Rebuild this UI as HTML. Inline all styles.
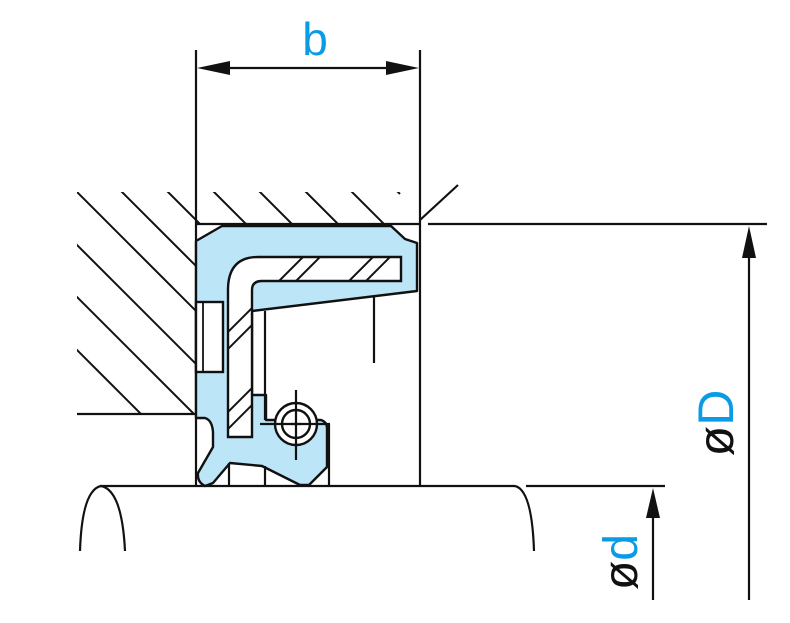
<!DOCTYPE html>
<html><head><meta charset="utf-8"><style>
html,body{margin:0;padding:0;background:#fff;width:790px;height:623px;overflow:hidden}
svg{display:block}
text{font-family:"Liberation Sans",sans-serif}
</style></head><body>
<svg width="790" height="623" viewBox="0 0 790 623" xmlns="http://www.w3.org/2000/svg">
<defs>
<clipPath id="hz"><path d="M77 192 H420 V224 H196 V414 H77 Z"/></clipPath>
<clipPath id="mt"><path d="M401 257 H258 Q228 257 228 290 V437 H252 V290 Q252 281 262 281 H401 Z"/></clipPath>
</defs>
<g clip-path="url(#hz)" stroke="#111" stroke-width="2">
<line x1="-200" y1="-85" x2="400" y2="515"/>
<line x1="-200" y1="-32" x2="400" y2="568"/>
<line x1="-200" y1="20" x2="400" y2="620"/>
<line x1="-200" y1="73" x2="400" y2="673"/>
<line x1="-200" y1="-130" x2="400" y2="470"/>
<line x1="-200" y1="-176" x2="400" y2="424"/>
<line x1="-200" y1="-222" x2="400" y2="378"/>
<line x1="-200" y1="-268" x2="400" y2="332"/>
<line x1="-200" y1="-314" x2="400" y2="286"/>
<line x1="-200" y1="-360" x2="400" y2="240"/>
<line x1="-200" y1="-406" x2="400" y2="194"/>
</g>
<g stroke="#111" stroke-width="2.2" fill="none">
<line x1="77" y1="414" x2="196" y2="414"/>
<line x1="196" y1="224" x2="420" y2="224"/>
<line x1="196" y1="50" x2="196" y2="486"/>
<line x1="420" y1="50" x2="420" y2="486"/>
<line x1="420" y1="220" x2="458" y2="185"/>
<line x1="428" y1="224" x2="767" y2="224"/>
<line x1="526" y1="486" x2="665" y2="486"/>
<line x1="100" y1="486" x2="515" y2="486"/>
<path d="M80 551 Q82 490 101 486 Q122 490 125 551"/>
<path d="M515 486 Q532 490 534 551"/>
<line x1="215" y1="68" x2="400" y2="68"/>
<line x1="749" y1="250" x2="749" y2="600"/>
<line x1="653" y1="510" x2="653" y2="600"/>
</g>
<path d="M197 68 L230 61 L230 75 Z" fill="#111"/>
<path d="M419 68 L386 61 L386 75 Z" fill="#111"/>
<path d="M749 226 L742 258 L756 258 Z" fill="#111"/>
<path d="M653 488 L646 518 L660 518 Z" fill="#111"/>
<path d="M196 241 L222 226 L391 226 L405 239 L417 243 L417 291 L252 311 L252 395 L266 395 L266 420 L321 420 Q327 422 327 428 L327 467 L309 485 L300 485 L262 466 L230 463 L213 483 L205 486 Q197 482 198 473 L213 447 L213 432 Q212 420 205 418 L196 418 Z" fill="#bde5f8" stroke="#111" stroke-width="2.4" stroke-linejoin="round"/>
<path d="M401 257 H258 Q228 257 228 290 V437 H252 V290 Q252 281 262 281 H401 Z" fill="#fff" stroke="#111" stroke-width="2.4"/>
<g clip-path="url(#mt)" stroke="#111" stroke-width="2">
<line x1="200" y1="360" x2="330" y2="230"/>
<line x1="200" y1="377" x2="330" y2="247"/>
<line x1="200" y1="440" x2="330" y2="310"/>
<line x1="200" y1="457" x2="330" y2="327"/>
<line x1="330" y1="300" x2="400" y2="230"/>
<line x1="347" y1="300" x2="417" y2="230"/>
</g>
<rect x="196" y="302" width="27" height="70" fill="#fff" stroke="#111" stroke-width="2.4"/>
<line x1="203" y1="302" x2="203" y2="372" stroke="#111" stroke-width="1.8"/>
<g stroke="#111" stroke-width="2.2" fill="none">
<line x1="265" y1="311" x2="265" y2="420"/>
<line x1="374" y1="295" x2="374" y2="363"/>
<line x1="229" y1="463" x2="229" y2="486"/>
<line x1="265" y1="466" x2="265" y2="486"/>
<line x1="329" y1="424" x2="329" y2="486"/>
</g>
<circle cx="296" cy="424" r="21" fill="#fff" stroke="#111" stroke-width="2.4"/>
<circle cx="296" cy="424" r="14" fill="none" stroke="#111" stroke-width="2.4"/>
<g stroke="#111" stroke-width="2.2">
<line x1="260" y1="424" x2="330" y2="424"/>
<line x1="296" y1="390" x2="296" y2="460"/>
<line x1="291" y1="424" x2="301" y2="424"/>
</g>
<text x="315" y="55" font-size="46" fill="#0a9be6" text-anchor="middle">b</text>
<text transform="translate(733,423) rotate(-90)" font-size="50" text-anchor="middle"><tspan fill="#111">ø</tspan><tspan fill="#0a9be6">D</tspan></text>
<text transform="translate(637,562) rotate(-90)" font-size="48" text-anchor="middle"><tspan fill="#111">ø</tspan><tspan fill="#0a9be6">d</tspan></text>
</svg>
</body></html>
